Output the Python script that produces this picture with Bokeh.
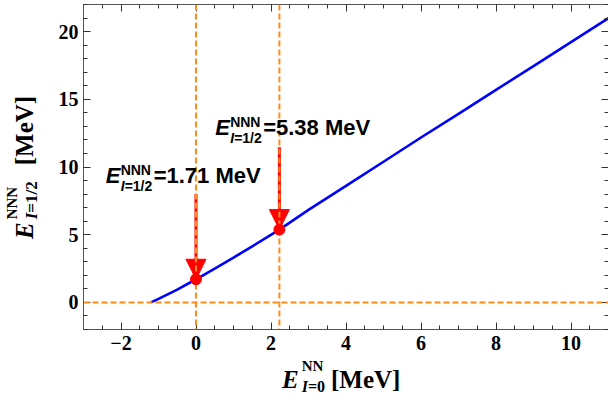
from bokeh.plotting import figure
from bokeh.models import (LinearAxis, FixedTicker, Label, Arrow, NormalHead, Span, Div)
from bokeh.layouts import row, column
from bokeh.embed import file_html
from bokeh.resources import INLINE

# ---- data ----
X_CURVE = [-1.2, -1.0, -0.5, 0.0, 0.5, 1.0, 1.5, 2.224, 3.0, 4.0, 5.0, 6.0, 7.0, 8.0, 9.0, 10.0, 11.0]
Y_CURVE = [0.0, 0.26, 0.95, 1.71, 2.50, 3.31, 4.14, 5.38, 6.83, 8.61, 10.39, 12.18, 13.93, 15.70, 17.45, 19.22, 21.0]
POINT_X = [0.0, 2.224]
POINT_Y = [1.71, 5.38]
ARROW_TOP = [8.0, 11.45]
V_LINES = [0.0, 2.224]
H_LINE = 0.0
X_TICKS = [-2, 0, 2, 4, 6, 8, 10]
Y_TICKS = [0, 5, 10, 15, 20]
X_MINOR = [v / 2 for v in range(-6, 23)]
Y_MINOR = list(range(-2, 23))

# annotation anchors (data units)
LABEL_POS = [(-2.41, 9.35), (0.51, 12.9)]

ORANGE = "#FF8C1A"
SERIF = "Liberation Serif"
SANS = "Liberation Sans"

p = figure(width=558, height=365, x_range=(-3, 11), y_range=(-2, 22),
           output_backend="svg", toolbar_location=None,
           min_border_left=33, min_border_right=0, min_border_top=4,
           min_border_bottom=36, margin=0)
p.xgrid.visible = False
p.ygrid.visible = False
p.outline_line_color = None
p.background_fill_color = "white"

xt = FixedTicker(ticks=X_TICKS, minor_ticks=X_MINOR)
yt = FixedTicker(ticks=Y_TICKS, minor_ticks=Y_MINOR)

def style_axis(ax, ticker, show_labels, standoff=5, overrides=None):
    ax.ticker = ticker
    ax.axis_line_color = "#555555"
    ax.axis_line_width = 1
    ax.major_tick_in = 7
    ax.major_tick_out = 0
    ax.minor_tick_in = 4
    ax.minor_tick_out = 0
    ax.major_tick_line_color = "#333333"
    ax.minor_tick_line_color = "#333333"
    if show_labels:
        ax.major_label_text_font = SERIF
        ax.major_label_text_font_style = "bold"
        ax.major_label_text_font_size = "20px"
        ax.major_label_text_color = "black"
        ax.major_label_standoff = standoff
        if overrides:
            ax.major_label_overrides = overrides
    else:
        ax.major_label_text_font_size = "0px"
        ax.major_label_standoff = 0

x_over = {t: str(t).replace("-", "\u2212") for t in X_TICKS}
style_axis(p.xaxis[0], xt, True, 6, x_over)
style_axis(p.yaxis[0], yt, True, 5)
top = LinearAxis()
right = LinearAxis()
style_axis(top, xt, False)
style_axis(right, yt, False)
p.add_layout(top, "above")
p.add_layout(right, "right")

# curve
p.line(X_CURVE, Y_CURVE, line_color="#0000FF", line_width=2.6)

# arrows
for x, y0, y1 in zip(POINT_X, ARROW_TOP, POINT_Y):
    p.add_layout(Arrow(end=NormalHead(size=20, fill_color="red", line_color="red", line_width=1),
                       x_start=x, y_start=y0, x_end=x, y_end=y1,
                       line_color="red", line_width=3))

# dashed orange lines
for x in V_LINES:
    p.add_layout(Span(location=x, dimension="height", line_color=ORANGE,
                      line_width=2, line_dash="6 3"))
p.add_layout(Span(location=H_LINE, dimension="width", line_color=ORANGE,
                  line_width=2, line_dash="6 3"))

# points
p.scatter(POINT_X, POINT_Y, size=11, fill_color="red", line_color="red", level="overlay")

def add_text(x, y, text, dx=0, dy=0, size=22, style="bold", font=SANS):
    p.add_layout(Label(x=x, y=y, x_offset=dx, y_offset=dy, text=text,
                       text_font=font, text_font_size=f"{size}px",
                       text_font_style=style, text_baseline="alphabetic",
                       text_align="left", text_color="black"))

# value annotations
for (lx, ly), val in zip(LABEL_POS, POINT_Y):
    add_text(lx, ly, "E", 0, 0, 22, "bold italic")
    add_text(lx, ly, "NNN", 15, 6, 14, "bold")
    add_text(lx, ly, "I", 15, -10, 14, "bold italic")
    add_text(lx, ly, "=1/2", 19, -10, 14, "bold")
    add_text(lx, ly, f"={val:.2f} MeV", 48, 0, 22, "bold")

# axis titles as HTML (sub/superscripts)
BASE = ("font-family:'Liberation Serif',serif;font-weight:bold;font-size:25px;"
        "line-height:24px;white-space:nowrap;color:black;margin:0;")

x_html = (f'<div style="{BASE}padding-left:282px;padding-top:3px;">'
          '<i>E</i>'
          '<span style="font-size:15px;position:relative;top:-17px;margin-left:3px;">NN</span>'
          '<span style="font-size:16px;position:relative;top:4px;margin-left:-21.7px;"><i>I</i>=0</span>'
          '<span style="margin-left:6px;">[MeV]</span></div>')

y_html = (f'<div style="{BASE}transform-origin:0 0;'
          'transform:translate(13px,239px) rotate(-90deg);">'
          '<i>E</i>'
          '<span style="font-size:15px;position:relative;top:-16px;margin-left:3px;">NNN</span>'
          '<span style="font-size:17px;position:relative;top:4px;margin-left:-32.5px;"><i>I</i>=1/2</span>'
          '<span style="margin-left:16px;">[MeV]</span></div>')

ydiv = Div(text=y_html, width=50, height=365, margin=0)
xdiv = Div(text=x_html, width=608, height=42, margin=0)

layout = column(row(ydiv, p, margin=0), xdiv, margin=0)

open("out.html", "w").write(file_html(layout, INLINE))
